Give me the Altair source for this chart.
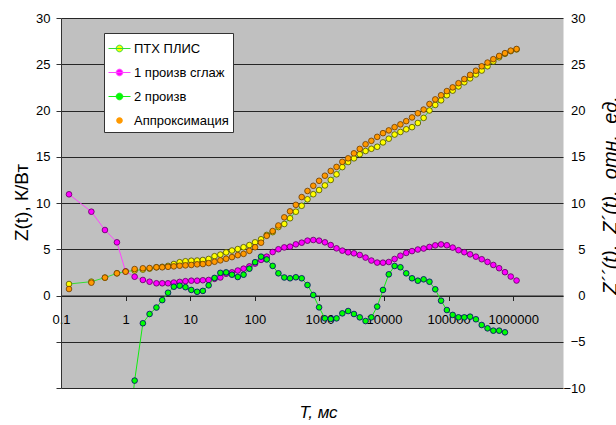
import altair as alt
import pandas as pd

FONT = "Liberation Sans"

# time, ms (log axis)
time_ms = [0.133, 0.295, 0.479, 0.734, 1.0, 1.38, 1.85, 2.35,
           3.0, 3.69, 4.54, 5.58, 6.87, 8.45, 10.4, 12.8, 15.7, 19.3,
           23.8, 29.3, 36.0, 44.3, 54.5, 67.0, 82.4, 101, 125, 153,
           189, 232, 286, 351, 432, 532, 654, 804, 989, 1217,
           1497, 1841, 2264, 2785, 3426, 4214, 5183, 6375, 7841, 9645,
           11863, 14592, 17948, 22076, 27153, 33398, 41080, 50528, 62149, 76443,
           94025, 115650, 142250, 174970, 215210, 264710, 325600, 400490, 492600, 605900,
           745260, 916670, 1127500]

ptx = [1.24, 1.5, 1.93, 2.4, 2.6, 2.7, 2.8, 2.9,
       3.05, 3.1, 3.2, 3.4, 3.6, 3.7, 3.76, 3.78, 3.84, 3.95,
       4.25, 4.42, 4.66, 4.86, 5.02, 5.22, 5.45, 5.75, 6.08, 6.55,
       6.85, 7.4, 7.73, 8.35, 9.06, 9.7, 10.4, 10.95, 11.4, 11.9,
       12.49, 13.1, 13.88, 14.43, 14.83, 15.27, 15.62, 15.86, 16.08, 16.55,
       16.95, 17.4, 17.68, 17.97, 18.2, 18.65, 19.2, 20.0, 20.6, 21.1,
       21.65, 22.15, 22.6, 23.05, 23.47, 23.9, 24.32, 24.78, 25.3, 25.75,
       26.13, 26.42, 26.6]

approx = [0.7, 1.39, 1.93, 2.4, 2.58, 2.86, 2.94, 2.97,
          3.05, 3.05, 3.1, 3.15, 3.22, 3.26, 3.3, 3.37, 3.4, 3.5,
          3.65, 3.8, 3.97, 4.15, 4.36, 4.5, 4.83, 5.22, 5.71, 6.45,
          6.97, 7.57, 8.45, 9.1, 9.8, 10.64, 11.3, 11.86, 12.4, 12.95,
          13.46, 13.9, 14.45, 14.83, 15.37, 15.85, 16.35, 16.72, 17.15, 17.55,
          17.85, 18.2, 18.5, 18.85, 19.25, 19.7, 20.1, 20.7, 21.2, 21.65,
          22.1, 22.5, 22.95, 23.4, 23.85, 24.3, 24.78, 25.18, 25.55, 25.9,
          26.2, 26.47, 26.65]

deriv1 = [10.94, 9.06, 7.08, 5.75, 2.6, 2.03, 1.68, 1.49,
          1.32, 1.32, 1.32, 1.4, 1.47, 1.55, 1.6, 1.6, 1.65, 1.68,
          1.8, 1.95, 2.35, 2.5, 2.7, 2.9, 3.15, 3.45, 3.85, 4.2,
          4.7, 5.0, 5.2, 5.28, 5.53, 5.71, 5.93, 6.0, 5.93, 5.75,
          5.45, 5.1, 4.85, 4.67, 4.56, 4.38, 4.1, 3.78, 3.56, 3.55,
          3.62, 3.95, 4.3, 4.6, 4.8, 4.97, 5.08, 5.25, 5.42, 5.52,
          5.43, 5.18, 4.9, 4.68, 4.45, 4.2, 3.92, 3.63, 3.3, 2.95,
          2.52, 2.05, 1.62]

deriv2 = [None, None, None, None, -18.0, -9.2, -3.0, -2.0,
          -1.3, -0.5, 0.3, 0.95, 1.06, 0.9, 0.6, 0.4, 0.5, 1.1,
          1.9, 2.45, 2.5, 2.25, 2.0, 2.25, 2.9, 3.6, 4.2, 3.9,
          3.2, 2.4, 1.95, 1.86, 1.97, 1.86, 1.13, 0.05, -1.28, -2.47,
          -2.54, -2.47, -1.93, -1.68, -2.0, -2.36, -2.76, -2.36, -1.2, 0.6,
          2.29, 3.19, 3.05, 2.4, 1.86, 1.6, 1.75, 1.49, 0.67, -0.56,
          -1.57, -2.1, -2.36, -2.36, -2.29, -2.57, -3.19, -3.55, -3.8, -3.8,
          -3.98, None, None]

series_names = ["ПТХ ПЛИС", "1 произв сглаж", "2 произв", "Аппроксимация"]
series_values = [ptx, deriv1, deriv2, approx]
marker_fill = ["#ffff00", "#ff00ff", "#00ff00", "#ff9900"]
marker_stroke = ["#4d4d00", "#5a005a", "#00006e", "#6b3a00"]
line_color = ["#33dd33", "#ff44ff", "#11ee11", "transparent"]

x_ticks = [0.1, 1, 10, 100, 1000, 10000, 100000, 1000000]
y_ticks = [-10, -5, 0, 5, 10, 15, 20, 25, 30]

rows = []
for name, vals in zip(series_names, series_values):
    for t, v in zip(time_ms, vals):
        if v is not None:
            rows.append({"t": t, "v": v, "series": name})
df = pd.DataFrame(rows)

fill_scale = alt.Scale(domain=series_names, range=marker_fill)

stroke_sig = ("datum.value == 'Аппроксимация' ? 'transparent' : "
              "datum.value == '1 произв сглаж' ? '#ff44ff' : "
              "datum.value == '2 произв' ? '#11ee11' : '#33dd33'")

legend = alt.Legend(
    title=None, orient="none", legendX=43, legendY=15, direction="vertical",
    fillColor="white", strokeColor="#333333", padding=4,
    symbolType="M-1,0H1M-0.3,0A0.3,0.3,0,1,1,0.3,0A0.3,0.3,0,1,1,-0.3,0Z",
    symbolSize=484, symbolStrokeWidth=1, symbolOpacity=1,
    symbolStrokeColor={"expr": stroke_sig},
    labelFont=FONT, labelFontSize=13, labelColor="black", labelOffset=3,
    rowPadding=5,
)

x_enc = alt.X(
    "t:Q",
    scale=alt.Scale(type="log", domain=[0.1, 5.9e6], nice=False),
    axis=alt.Axis(
        values=x_ticks, offset=-92.5, labelFlush=False, labelOverlap=False,
        labelExpr="datum.value < 1 ? '0.1' : format(datum.value, 'd')",
        tickSize=5, tickColor="#222222", domainColor="#222222", grid=False,
        labelFont=FONT, labelFontSize=13, labelColor="black", labelPadding=13,
        title="T, мс", titleFont=FONT, titleFontSize=17, titleFontStyle="italic",
        titleFontWeight="normal", titleColor="black", titleX=257, titleY=122,
        titleAlign="center", titleBaseline="alphabetic",
    ),
)

y_scale = alt.Scale(domain=[-10, 30], nice=False, zero=False)

left_axis = alt.Axis(
    values=y_ticks, labelExpr="datum.value >= 0 ? datum.label : ''",
    tickSize=5, tickColor="#333333", domainColor="#333333",
    grid=True, gridColor="#262626", gridWidth=1.1,
    labelFont=FONT, labelFontSize=13, labelColor="black", labelPadding=6,
    title="Z(t), К/Вт", titleFont=FONT, titleFontSize=19, titleFontWeight="normal",
    titleColor="black", titleAngle=270, titleX=-34, titleY=184,
    titleAlign="center", titleBaseline="alphabetic",
)

right_axis = alt.Axis(
    orient="right", values=y_ticks, ticks=False, domain=False, grid=False,
    labelFont=FONT, labelFontSize=13, labelColor="black", labelPadding=22,
    labelAlign="right",
    title="Z´´(t),\u00a0 Z´(t),\u00a0 отн.\u00a0 ед.", titleFont=FONT, titleFontSize=20,
    titleFontStyle="italic", titleFontWeight="normal", titleColor="black",
    titleAngle=270, titleX=53, titleY=177, titleAlign="center",
    titleBaseline="alphabetic",
)


def series_layers(i, axis):
    name = series_names[i]
    base = alt.Chart(df).transform_filter(alt.datum.series == name)
    y_enc = alt.Y("v:Q", scale=y_scale, axis=axis)
    pts = base.mark_circle(size=32, opacity=1, stroke=marker_stroke[i],
                           strokeWidth=0.8, clip=True).encode(
        x=x_enc, y=y_enc,
        fill=alt.Fill("series:N", scale=fill_scale, legend=legend),
    )
    if line_color[i] == "transparent":
        return [pts]
    ln = base.mark_line(color=line_color[i], strokeWidth=1, clip=True).encode(
        x=x_enc, y=y_enc)
    return [ln, pts]


left_layer = alt.layer(*series_layers(0, left_axis))
right_layer = alt.layer(*series_layers(1, right_axis), *series_layers(2, right_axis))
top_layer = alt.layer(*series_layers(3, None))

chart = alt.layer(left_layer, right_layer, top_layer).resolve_axis(
    y="independent"
).properties(
    width=502, height=370,
    padding={"left": 61, "top": 18, "right": 53, "bottom": 37},
    autosize=alt.AutoSizeParams(type="none"),
    background="white",
).configure_view(fill="#c0c0c0", stroke="transparent")

chart.save("out.html", embed_options={"renderer": "svg", "actions": False})
